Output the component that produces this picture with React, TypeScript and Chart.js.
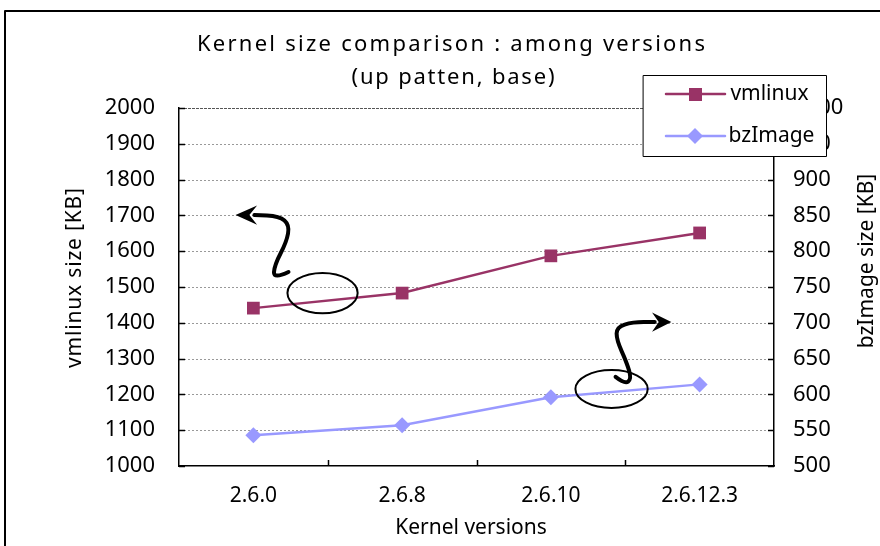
import React, { useEffect, useRef } from "react";
import { Chart, registerables } from "chart.js";

Chart.register(...registerables);

const versions = ["2.6.0", "2.6.8", "2.6.10", "2.6.12.3"];
const vmlinuxKB = [1441, 1483, 1587, 1651];
const bzImageKB = [543, 557, 596, 614];

const titleLines = ["Kernel size comparison : among versions", "(up patten, base)"];
const leftAxisTitle = "vmlinux size [KB]";
const rightAxisTitle = "bzImage size [KB]";
const xAxisTitle = "Kernel versions";

const VM_COLOR = "#993366";
const BZ_COLOR = "#9999FF";
const FONT = '"Noto Sans", sans-serif';

// Callout decorations in data units: [category index, vmlinux KB]
const leftEllipse = [0.465, 1483, 0.236, 56];
const leftSquiggle = [
  [0.236, 1542], [0.135, 1522], [0.142, 1561], [0.223, 1626],
  [0.243, 1673], [0.175, 1698], [0.007, 1701],
];
const leftHead = [[-0.12, 1701], [0.025, 1728], [-0.027, 1701], [0.025, 1674]];

const rightEllipse = [2.408, 1215, 0.243, 53];
const rightSquiggle = [
  [2.435, 1249], [2.496, 1229], [2.543, 1243], [2.509, 1290],
  [2.442, 1352], [2.442, 1388], [2.55, 1402], [2.698, 1402],
];
const rightHead = [[2.81, 1402], [2.68, 1429], [2.725, 1402], [2.68, 1375]];

// draw text stretched by letter spacing to a target width
function fitText(ctx: any, text: string, x: number, y: number, width: number) {
  ctx.letterSpacing = "0px";
  const w = ctx.measureText(text).width;
  const sp = Math.max(0, (width - w) / Math.max(1, text.length - 1));
  ctx.letterSpacing = `${sp}px`;
  ctx.fillText(text, x + sp / 2, y);
  ctx.letterSpacing = "0px";
}

const TICK_IN = 6;

const gridPlugin = {
  id: "dottedGrid",
  beforeDatasetsDraw(chart: any) {
    const { ctx, chartArea, scales } = chart;
    const ys = scales.y;
    const y1 = scales.y1;
    const xs = scales.x;
    ctx.save();
    ctx.lineWidth = 1;
    ys.ticks.forEach((t: any) => {
      if (t.value <= ys.min) return;
      const py = Math.round(ys.getPixelForValue(t.value)) + 0.5;
      const top = t.value >= ys.max;
      ctx.strokeStyle = top ? "#555555" : "#999999";
      ctx.setLineDash(top ? [3, 1] : [2, 2]);
      ctx.beginPath();
      ctx.moveTo(chartArea.left + 1, py);
      ctx.lineTo(chartArea.right - 1, py);
      ctx.stroke();
    });
    // inward tick marks
    ctx.setLineDash([]);
    ctx.strokeStyle = "#000";
    ctx.lineWidth = 1.5;
    ctx.beginPath();
    ys.ticks.forEach((t: any) => {
      const py = Math.round(ys.getPixelForValue(t.value)) + 0.5;
      ctx.moveTo(chartArea.left, py);
      ctx.lineTo(chartArea.left + TICK_IN, py);
    });
    y1.ticks.forEach((t: any) => {
      const py = Math.round(y1.getPixelForValue(t.value)) + 0.5;
      ctx.moveTo(chartArea.right - TICK_IN, py);
      ctx.lineTo(chartArea.right, py);
    });
    for (let i = 0; i < versions.length - 1; i++) {
      const px = Math.round(xs.getPixelForValue(i + 0.5)) + 0.5;
      ctx.moveTo(px, chartArea.bottom);
      ctx.lineTo(px, chartArea.bottom - TICK_IN);
    }
    ctx.stroke();
    ctx.restore();
  },
};

const decorPlugin = {
  id: "decor",
  afterDraw(chart: any) {
    const { ctx, chartArea, scales } = chart;
    const xs = scales.x;
    const ys = scales.y;
    const P = (p: number[]) => [xs.getPixelForValue(p[0]), ys.getPixelForValue(p[1])];
    ctx.save();

    const drawEllipse = (e: number[]) => {
      const [cx, cy] = P([e[0], e[1]]);
      const rx = Math.abs(xs.getPixelForValue(e[0] + e[2]) - cx);
      const ry = Math.abs(ys.getPixelForValue(e[1] + e[3]) - cy);
      ctx.beginPath();
      ctx.ellipse(cx, cy, rx, ry, 0, 0, Math.PI * 2);
      ctx.lineWidth = 2;
      ctx.strokeStyle = "#000";
      ctx.stroke();
    };
    const drawSquiggle = (pts: number[][], head: number[][]) => {
      const p = pts.map(P);
      ctx.beginPath();
      ctx.moveTo(p[0][0], p[0][1]);
      for (let i = 1; i < p.length - 1; i++) {
        const mx = (p[i][0] + p[i + 1][0]) / 2;
        const my = (p[i][1] + p[i + 1][1]) / 2;
        ctx.quadraticCurveTo(p[i][0], p[i][1], mx, my);
      }
      ctx.lineTo(p[p.length - 1][0], p[p.length - 1][1]);
      ctx.lineWidth = 4;
      ctx.lineCap = "round";
      ctx.lineJoin = "round";
      ctx.strokeStyle = "#000";
      ctx.stroke();
      const h = head.map(P);
      ctx.beginPath();
      ctx.moveTo(h[0][0], h[0][1]);
      for (let i = 1; i < h.length; i++) ctx.lineTo(h[i][0], h[i][1]);
      ctx.closePath();
      ctx.fillStyle = "#000";
      ctx.fill();
    };
    drawEllipse(leftEllipse);
    drawSquiggle(leftSquiggle, leftHead);
    drawEllipse(rightEllipse);
    drawSquiggle(rightSquiggle, rightHead);

    // titles
    ctx.fillStyle = "#000";
    ctx.textAlign = "center";
    ctx.textBaseline = "middle";
    ctx.font = `22px ${FONT}`;
    fitText(ctx, titleLines[0], 451, 45, 508);
    fitText(ctx, titleLines[1], 453, 78, 203);

    ctx.font = `21px ${FONT}`;
    fitText(ctx, xAxisTitle, 471, 528, 148);

    ctx.save();
    ctx.translate(chartArea.left - 104, 278);
    ctx.rotate(-Math.PI / 2);
    fitText(ctx, leftAxisTitle, 0, 0, 180);
    ctx.restore();

    ctx.save();
    ctx.translate(chartArea.right + 93, 261);
    ctx.rotate(-Math.PI / 2);
    fitText(ctx, rightAxisTitle, 0, 0, 155);
    ctx.restore();

    // legend
    const lx = 643, ly = 75, lw = 183, lh = 81;
    ctx.fillStyle = "#fff";
    ctx.fillRect(lx, ly, lw, lh);
    ctx.strokeStyle = "#000";
    ctx.lineWidth = 1;
    ctx.strokeRect(lx + 0.5, ly + 0.5, lw, lh);
    const rows = [
      { label: "vmlinux", color: VM_COLOR, y: 94, shape: "rect", w: 75 },
      { label: "bzImage", color: BZ_COLOR, y: 136, shape: "diamond", w: 79 },
    ];
    rows.forEach((r) => {
      ctx.strokeStyle = r.color;
      ctx.lineWidth = 2.5;
      ctx.beginPath();
      ctx.moveTo(666, r.y);
      ctx.lineTo(725, r.y);
      ctx.stroke();
      ctx.fillStyle = r.color;
      if (r.shape === "rect") {
        ctx.fillRect(689, r.y - 6, 13, 13);
      } else {
        ctx.beginPath();
        ctx.moveTo(695, r.y - 8);
        ctx.lineTo(703, r.y);
        ctx.lineTo(695, r.y + 8);
        ctx.lineTo(687, r.y);
        ctx.closePath();
        ctx.fill();
      }
      ctx.fillStyle = "#000";
      ctx.textAlign = "center";
      ctx.font = `21px ${FONT}`;
      fitText(ctx, r.label, 732 + r.w / 2, r.y, r.w);
    });

    // outer frame
    ctx.strokeStyle = "#000";
    ctx.lineWidth = 2;
    ctx.beginPath();
    ctx.moveTo(5, 560);
    ctx.lineTo(5, 11);
    ctx.lineTo(890, 11);
    ctx.stroke();

    ctx.restore();
  },
};

export default function App() {
  const ref = useRef<HTMLCanvasElement>(null);
  useEffect(() => {
    document.body.style.margin = "0";
    const plain = (v: any) => String(v);
    const chart = new Chart(ref.current as HTMLCanvasElement, {
      type: "line",
      data: {
        labels: versions,
        datasets: [
          {
            label: "vmlinux",
            data: vmlinuxKB,
            yAxisID: "y",
            borderColor: VM_COLOR,
            backgroundColor: VM_COLOR,
            pointStyle: "rect",
            pointRadius: 9,
            pointBorderWidth: 0,
            borderWidth: 2.5,
          },
          {
            label: "bzImage",
            data: bzImageKB,
            yAxisID: "y1",
            borderColor: BZ_COLOR,
            backgroundColor: BZ_COLOR,
            pointStyle: "rectRot",
            pointRadius: 8,
            pointBorderWidth: 0,
            borderWidth: 2.5,
          },
        ],
      },
      options: {
        animation: false,
        responsive: false,
        devicePixelRatio: 1,
        layout: { padding: { top: 108, left: 0, right: 0, bottom: 0 } },
        plugins: { legend: { display: false }, title: { display: false }, tooltip: { enabled: false } },
        scales: {
          x: {
            offset: true,
            grid: { offset: true, drawOnChartArea: false, drawTicks: false },
            border: { color: "#000", width: 1.5 },
            ticks: { color: "#000", font: { family: FONT, size: 21 }, padding: 17, maxRotation: 0 },
            afterFit: (s: any) => { s.height = 80; },
          },
          y: {
            position: "left",
            min: 1000,
            max: 2000,
            ticks: { stepSize: 100, color: "#000", font: { family: FONT, size: 22 }, padding: 24, callback: plain },
            grid: { drawOnChartArea: false, drawTicks: false },
            border: { color: "#000", width: 1.5 },
            afterFit: (s: any) => { s.width = 179; },
          },
          y1: {
            position: "right",
            min: 500,
            max: 1000,
            ticks: { stepSize: 50, color: "#000", font: { family: FONT, size: 22 }, padding: 19, callback: plain },
            grid: { drawOnChartArea: false, drawTicks: false },
            border: { color: "#000", width: 1.5 },
            afterFit: (s: any) => { s.width = 106; },
          },
        },
      },
      plugins: [gridPlugin, decorPlugin],
    });
    return () => chart.destroy();
  }, []);
  return (
    <div style={{ width: 880, height: 546 }}>
      <canvas ref={ref} width={880} height={546} style={{ display: "block" }} />
    </div>
  );
}
